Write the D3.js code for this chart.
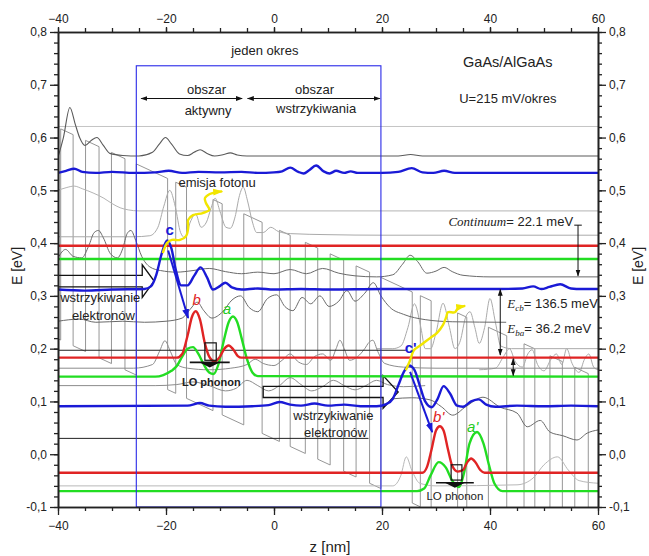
<!DOCTYPE html>
<html lang="pl">
<head>
<meta charset="utf-8">
<title>GaAs/AlGaAs</title>
<script src="https://cdn.jsdelivr.net/npm/d3@7/dist/d3.min.js"></script>
<style>
    body { margin: 0; background: #fff; }
    #chart-area { width: 649px; height: 556px; }
    svg text { font-family: "Liberation Sans", Arial, sans-serif; fill: #222; }
    .tick text { font-size: 12px; }
    .serif { font-family: "Liberation Serif", "Times New Roman", serif; font-style: italic; }
</style>
</head>
<body>
<div id="chart-area"></div>
<script>

// axis tick labels
const zTicks = [-40, -20, 0, 20, 40, 60];
const eTicks = [-0.1, 0, 0.1, 0.2, 0.3, 0.4, 0.5, 0.6, 0.7, 0.8];

// layer sequence of one period (nm), barrier first, then alternating well / barrier
const layerWidths = [5.8, 1.5, 2.0, 4.9, 1.7, 4.0, 3.4, 3.2, 2.0, 2.8, 2.3, 2.3, 2.5, 2.3, 2.5, 2.1];
const periodStarts = [-70.8, -25.5, 19.8];
const barrierTop = 0.55;      // eV, top of injection barrier at z = -25.5
const barrierHeight = 0.40;   // eV
const fieldDrop = 0.215;      // eV per period (U = 215 mV/okres)

// colored states [z nm, E eV]
const cUpper = [[-40,0.533],[-38.5,0.537],[-37,0.541],[-35.5,0.535],[-33,0.533],[-30,0.535],[-26,0.533],[-22,0.534],[-19.5,0.537],[-17,0.533],[-14,0.535],[-10,0.534],[-6,0.535],[-3,0.533],[0,0.534],[1.5,0.536],[3,0.543],[4.5,0.535],[5.5,0.532],[6.5,0.538],[7.8,0.547],[9.2,0.536],[10.3,0.532],[11.5,0.537],[13,0.533],[14.2,0.536],[15.5,0.533],[20,0.533],[23,0.535],[25.5,0.542],[27.5,0.534],[29.5,0.533],[31.5,0.537],[33.5,0.533],[40,0.533],[60,0.533]];
const bUpper = [[-40,0.395],[60,0.395]];
const aUpper = [[-40,0.37],[60,0.37]];
const cState = [[-40,0.312],[-35,0.31],[-30,0.312],[-24,0.313],[-22.8,0.318],[-21.8,0.34],[-20.8,0.38],[-19.8,0.405],[-19,0.39],[-18.2,0.35],[-17.2,0.32],[-16,0.32],[-14.8,0.338],[-13.6,0.354],[-12.4,0.335],[-11.3,0.312],[-10.1,0.318],[-9,0.325],[-7.8,0.316],[-6,0.312],[-3,0.314],[0,0.312],[5,0.313],[10,0.312],[20,0.313],[30,0.313],[40,0.313],[46,0.314],[48,0.318],[49.5,0.313],[51,0.317],[53,0.322],[55,0.314],[57,0.313],[60,0.313]];
const bState = [[-40,0.183],[-18,0.183],[-17,0.19],[-16,0.225],[-15.2,0.26],[-14.5,0.271],[-13.7,0.255],[-12.8,0.21],[-12,0.185],[-11,0.176],[-10,0.185],[-9.2,0.2],[-8.4,0.206],[-7.5,0.198],[-6.7,0.186],[-6,0.183],[60,0.183]];
const aState = [[-40,0.147],[-22,0.147],[-20.5,0.15],[-19,0.158],[-18,0.167],[-17,0.185],[-16,0.2],[-15,0.203],[-14,0.19],[-13,0.17],[-12,0.155],[-11.2,0.152],[-10.3,0.17],[-9.3,0.215],[-8.4,0.25],[-7.6,0.261],[-6.8,0.25],[-6,0.22],[-5,0.18],[-4,0.155],[-3,0.148],[60,0.147]];
const cPrime = [[-40,0.091],[-16,0.092],[-13.7,0.097],[-12,0.092],[-9,0.09],[-4,0.091],[-1,0.093],[1,0.099],[3,0.094],[5,0.092],[7.5,0.096],[10,0.092],[13,0.094],[16,0.091],[19,0.091],[20.8,0.095],[22,0.105],[23,0.13],[24,0.155],[25,0.168],[26,0.16],[27,0.13],[28,0.1],[29.2,0.089],[30.3,0.105],[31.4,0.129],[32.6,0.115],[33.9,0.092],[35,0.09],[36.5,0.1],[37.9,0.104],[39.3,0.094],[41,0.09],[45,0.092],[50,0.091],[55,0.092],[60,0.091]];
const bPrime = [[-40,-0.035],[27.5,-0.035],[28.3,-0.025],[29.2,0.01],[30,0.045],[30.7,0.053],[31.4,0.045],[32.2,0.01],[33,-0.022],[34,-0.033],[35,-0.03],[35.8,-0.015],[36.5,-0.008],[37.3,-0.015],[38.2,-0.03],[39,-0.035],[60,-0.035]];
const aPrime = [[-40,-0.07],[26.5,-0.07],[27.8,-0.065],[29,-0.04],[30.5,-0.015],[31.8,-0.025],[33,-0.05],[34.2,-0.062],[35.2,-0.035],[36.2,0.02],[37.6,0.042],[38.8,0.02],[39.8,-0.02],[40.8,-0.055],[42.3,-0.07],[60,-0.07]];

// gray states
const gray620 = [[-40,0.621],[60,0.621]];
const gray565 = [[-40,0.563],[-39,0.6],[-37.8,0.657],[-36.8,0.625],[-36,0.6],[-35,0.585],[-33.8,0.595],[-32.8,0.6],[-31.6,0.585],[-30.4,0.57],[-28,0.566],[-25,0.565],[-22.5,0.572],[-21.2,0.588],[-20.1,0.6],[-19,0.588],[-17.5,0.569],[-16,0.566],[-14.8,0.572],[-13.7,0.577],[-12.4,0.57],[-11,0.565],[-9.3,0.568],[-8.1,0.571],[-6.8,0.567],[-5,0.565],[23,0.565],[25.3,0.568],[27.5,0.565],[60,0.565]];
const gray460 = [[-40,0.5],[-38.5,0.505],[-37,0.508],[-35.5,0.503],[-33.5,0.495],[-31.5,0.485],[-30,0.475],[-28.5,0.467],[-27,0.463],[-25,0.461],[60,0.461]];
const gray414 = [[-40,0.412],[-26,0.412],[-23,0.414],[-21.5,0.43],[-20.4,0.47],[-19.3,0.5],[-18.3,0.47],[-17.3,0.42],[-16.5,0.41],[-15.5,0.44],[-14.5,0.455],[-13.5,0.43],[-12.5,0.44],[-11.7,0.465],[-10.9,0.485],[-10,0.46],[-8.9,0.43],[-8.1,0.428],[-7.2,0.45],[-6.4,0.49],[-5.7,0.506],[-4.9,0.48],[-4,0.44],[-3.2,0.42],[-2,0.42],[-0.6,0.43],[0.8,0.422],[3,0.418],[10,0.416],[20,0.415],[60,0.415]];
const gray336 = [[-40,0.372],[-38.6,0.388],[-37.2,0.375],[-35.6,0.372],[-34.3,0.395],[-33.3,0.42],[-32.5,0.424],[-31.6,0.41],[-30.3,0.38],[-29,0.372],[-28,0.39],[-27.2,0.418],[-26.5,0.424],[-25.6,0.405],[-24.5,0.375],[-23,0.355],[-21,0.348],[-18,0.345],[-15,0.348],[-12,0.352],[-9,0.346],[-6,0.342],[-3,0.345],[0,0.342],[3,0.35],[6,0.342],[9,0.352],[12,0.343],[15,0.338],[19,0.336],[22,0.34],[23.8,0.36],[25.2,0.377],[26.6,0.365],[28.3,0.343],[30,0.347],[31.5,0.354],[33,0.346],[35,0.339],[40,0.336],[60,0.336]];
const gray250 = [[-40,0.252],[-36,0.256],[-33,0.25],[-28,0.252],[-24,0.25],[-20,0.252],[-17,0.258],[-15.5,0.275],[-14.2,0.288],[-13,0.272],[-11.5,0.258],[-9.5,0.27],[-7.8,0.292],[-6.2,0.3],[-4.6,0.278],[-3,0.27],[-1.2,0.295],[0.5,0.302],[2,0.28],[3.5,0.272],[5.2,0.297],[6.8,0.285],[8.5,0.3],[10.2,0.28],[12,0.29],[13.5,0.31],[15,0.29],[16.8,0.305],[18.4,0.325],[19.8,0.3],[21.5,0.278],[24,0.265],[28,0.255],[33,0.251],[43,0.25]];
const black197 = [[-40,0.197],[24.5,0.197]];
const grayActive = [[19,0.2],[22,0.2],[23.5,0.205],[24.8,0.24],[26,0.285],[27.2,0.24],[28,0.2],[29,0.2],[30,0.23],[31.3,0.286],[32.5,0.24],[33.5,0.2],[34.5,0.215],[35.5,0.26],[36.3,0.27],[37.2,0.24],[38,0.21],[39,0.24],[40,0.295],[41,0.25],[42,0.205],[44,0.2],[60,0.2]];
const gray163 = [[-40,0.163],[-26,0.163],[-22.5,0.17],[-21.2,0.195],[-20.2,0.215],[-19.2,0.195],[-18,0.17],[-16,0.163],[-12,0.16],[-8,0.163],[-5,0.17],[-3.5,0.18],[-2,0.172],[0,0.168],[1.5,0.178],[3,0.19],[4.5,0.175],[6,0.17],[7.5,0.185],[9,0.19],[10.5,0.178],[11.5,0.2],[12.2,0.216],[13,0.2],[14,0.178],[15.5,0.185],[16.8,0.2],[17.6,0.212],[18.3,0.216],[19.2,0.195],[20.5,0.172],[24,0.165],[30,0.163],[60,0.163]];
const gray128 = [[-40,0.13],[-22,0.13],[-18,0.132],[-15,0.137],[-12,0.13],[-9,0.12],[-7,0.125],[-5,0.14],[-3,0.13],[-1,0.12],[1,0.13],[3,0.145],[5,0.132],[7,0.12],[9,0.128],[11,0.14],[13,0.13],[15,0.122],[17,0.13],[19,0.14],[21,0.132],[24,0.128],[28,0.13]];
const black030 = [[-40,0.03],[17.5,0.03]];
const grayRight = [[22,0.105],[25.5,0.107],[28.9,0.103],[31,0.09],[33.1,0.074],[35.5,0.09],[38.7,0.108],[41.9,0.089],[45,0.078],[46.9,0.052],[49.3,0.064],[51.1,0.042],[53.5,0.035],[56.1,0.027],[58,0.04],[60,0.046]];
const grayRightMid = [[38,0.16],[41,0.163],[42.5,0.185],[43.6,0.2],[44.7,0.175],[46,0.165],[47,0.19],[47.8,0.198],[48.8,0.17],[50,0.158],[51.3,0.18],[52.3,0.19],[53.3,0.17],[54.2,0.2],[55.2,0.172],[56.5,0.155],[57.5,0.18],[58.3,0.19],[59.2,0.165],[60,0.16]];
const grayLow = [[-40,-0.06],[22,-0.06],[23.5,-0.04],[24.5,-0.005],[25.5,-0.03],[27,-0.055],[30,-0.06],[45,-0.058],[48,-0.045],[50,-0.02],[52.5,-0.005],[54.5,-0.03],[56.5,-0.05],[60,-0.055]];

// photon emission paths
const photonA = [[-20.6,0.381],[-19.8,0.4],[-18.9,0.406],[-17.4,0.406],[-16.3,0.413],[-15.9,0.428],[-15.9,0.444],[-15.0,0.453],[-13.2,0.457],[-12.0,0.463],[-12.6,0.476],[-12.8,0.485],[-11.9,0.493],[-10.4,0.497],[-9.6,0.498]];
const photonB = [[24.4,0.159],[25.2,0.178],[25.9,0.197],[27.2,0.207],[28.9,0.22],[30.2,0.23],[31.3,0.245],[31.9,0.26],[32.2,0.269],[33.5,0.269],[34.1,0.277],[35.4,0.281]];


class BandVis {

    constructor(parentElement) {
        this.parentElement = parentElement;
        this.initVis();
    }

    initVis() {
        let vis = this;

        vis.width = 649;
        vis.height = 556;
        vis.margin = {top: 32, right: 51, bottom: 49, left: 58};

        vis.svg = d3.select("#" + vis.parentElement).append("svg")
            .attr("width", vis.width)
            .attr("height", vis.height);

        vis.x = d3.scaleLinear().domain([-40, 60]).range([vis.margin.left, vis.width - vis.margin.right]);
        vis.y = d3.scaleLinear().domain([-0.1, 0.8]).range([vis.height - vis.margin.bottom, vis.margin.top]);

        // comma decimals like the original
        vis.fmt = d3.formatLocale({decimal: ",", thousands: ".", grouping: [3], currency: ["", ""], minus: "-"}).format(".1f");

        let defs = vis.svg.append("defs");
        defs.append("clipPath").attr("id", "plot-clip")
            .append("rect")
            .attr("x", vis.x(-40)).attr("y", vis.y(0.8))
            .attr("width", vis.x(60) - vis.x(-40))
            .attr("height", vis.y(-0.1) - vis.y(0.8));

        // arrow heads
        [["ah-black", "#111", 7], ["ah-blue", "#1a1ad6", 10], ["ah-yellow", "#f2e600", 10]].forEach(m => {
            defs.append("marker")
                .attr("id", m[0])
                .attr("viewBox", "0 0 10 10")
                .attr("refX", 9).attr("refY", 5)
                .attr("markerUnits", "userSpaceOnUse")
                .attr("markerWidth", m[2]).attr("markerHeight", m[2])
                .attr("orient", "auto-start-reverse")
                .append("path")
                .attr("d", "M0,1.5L10,5L0,8.5Z")
                .attr("fill", m[1]);
        });

        vis.plot = vis.svg.append("g").attr("clip-path", "url(#plot-clip)");

        vis.line = d3.line()
            .x(d => vis.x(d[0]))
            .y(d => vis.y(d[1]))
            .curve(d3.curveMonotoneX);

        vis.wrangleData();
    }

    wrangleData() {
        let vis = this;

        // conduction band edge, tilted by the applied field
        let periodLength = d3.sum(layerWidths);
        vis.bandEdge = [];
        periodStarts.forEach(start => {
            let z = start;
            layerWidths.forEach((w, i) => {
                let offset = i % 2 === 0 ? 0 : barrierHeight;
                let level = zz => barrierTop - fieldDrop * (zz - periodStarts[1]) / periodLength - offset;
                vis.bandEdge.push([z, level(z)], [z + w, level(z + w)]);
                z += w;
            });
        });

        vis.grayStates = [
            {data: gray620, color: "#c4c4c4", w: 1},
            {data: gray460, color: "#b4b4b4", w: 1},
            {data: gray414, color: "#aaaaaa", w: 1},
            {data: grayActive, color: "#aaaaaa", w: 1},
            {data: grayRightMid, color: "#aaaaaa", w: 1},
            {data: grayLow, color: "#b8b8b8", w: 1},
            {data: gray163, color: "#8c8c8c", w: 1},
            {data: gray128, color: "#8c8c8c", w: 1},
            {data: gray565, color: "#5a5a5a", w: 1.1},
            {data: gray336, color: "#6a6a6a", w: 1},
            {data: gray250, color: "#6a6a6a", w: 1},
            {data: grayRight, color: "#6a6a6a", w: 1},
            {data: black197, color: "#222", w: 1},
            {data: black030, color: "#222", w: 1}
        ];

        vis.colorStates = [
            {data: cUpper, color: "#1a1ad6"},
            {data: bUpper, color: "#e02424"},
            {data: aUpper, color: "#22dd22"},
            {data: aState, color: "#22dd22"},
            {data: bState, color: "#e02424"},
            {data: cState, color: "#1a1ad6"},
            {data: aPrime, color: "#22dd22"},
            {data: bPrime, color: "#e02424"},
            {data: cPrime, color: "#1a1ad6"}
        ];

        vis.updateVis();
    }

    updateVis() {
        let vis = this;
        let x = vis.x, y = vis.y;

        // band profile
        vis.plot.append("path")
            .attr("d", d3.line().x(d => x(d[0])).y(d => y(d[1]))(vis.bandEdge))
            .attr("fill", "none")
            .attr("stroke", "#8a8a8a")
            .attr("stroke-width", 0.9);

        // gray wavefunctions
        vis.plot.selectAll(".gray-state")
            .data(vis.grayStates)
            .enter().append("path")
            .attr("class", "gray-state")
            .attr("d", d => vis.line(d.data))
            .attr("fill", "none")
            .attr("stroke", d => d.color)
            .attr("stroke-width", d => d.w);

        // one period box
        vis.svg.append("rect")
            .attr("x", x(-25.5)).attr("y", y(0.736))
            .attr("width", x(19.8) - x(-25.5))
            .attr("height", y(-0.1) - y(0.736))
            .attr("fill", "none")
            .attr("stroke", "#2a2ae8")
            .attr("stroke-width", 1.1);

        // injection arrows (hollow)
        let hollowArrow = (z0, z1, zTip, eMid, body, head) => [
            [x(z0), y(eMid + body)], [x(z1), y(eMid + body)], [x(z1), y(eMid + head)],
            [x(zTip), y(eMid)], [x(z1), y(eMid - head)], [x(z1), y(eMid - body)], [x(z0), y(eMid - body)]
        ];
        [hollowArrow(-40, -24.4, -22.2, 0.328, 0.011, 0.031), hollowArrow(-2.0, 20.2, 23.0, 0.118, 0.0105, 0.031)]
            .forEach(pts => {
                vis.plot.append("polygon")
                    .attr("points", pts.map(p => p.join(",")).join(" "))
                    .attr("fill", "none")
                    .attr("stroke", "#111")
                    .attr("stroke-width", 1.3);
            });

        // colored states
        vis.plot.selectAll(".color-state")
            .data(vis.colorStates)
            .enter().append("path")
            .attr("class", "color-state")
            .attr("d", d => vis.line(d.data))
            .attr("fill", "none")
            .attr("stroke", d => d.color)
            .attr("stroke-width", 2.4);

        // photons
        [photonA, photonB].forEach(p => {
            vis.svg.append("path")
                .attr("d", d3.line().x(d => x(d[0])).y(d => y(d[1])).curve(d3.curveCatmullRom)(p))
                .attr("fill", "none")
                .attr("stroke", "#f2e600")
                .attr("stroke-width", 2.4)
                .attr("marker-end", "url(#ah-yellow)");
        });

        // transitions c -> b
        [[[-19.6, 0.386], [-15.9, 0.258]], [[25.2, 0.156], [29.3, 0.042]]].forEach(s => {
            vis.svg.append("line")
                .attr("x1", x(s[0][0])).attr("y1", y(s[0][1]))
                .attr("x2", x(s[1][0])).attr("y2", y(s[1][1]))
                .attr("stroke", "#1a1ad6")
                .attr("stroke-width", 2)
                .attr("marker-end", "url(#ah-blue)");
        });

        // LO phonon symbols
        [[-12.8, -10.7, 0.211, 0.178, -15.6, -8.2, 0.174], [32.8, 34.8, -0.02, -0.049, 30.0, 37.0, -0.054]].forEach(p => {
            let g = vis.svg.append("g");
            g.append("rect")
                .attr("x", x(p[0])).attr("y", y(p[2]))
                .attr("width", x(p[1]) - x(p[0])).attr("height", y(p[3]) - y(p[2]))
                .attr("fill", "none").attr("stroke", "#111").attr("stroke-width", 1.2);
            g.append("line")
                .attr("x1", x(p[4])).attr("x2", x(p[5]))
                .attr("y1", y(p[6])).attr("y2", y(p[6]))
                .attr("stroke", "#111").attr("stroke-width", 1.6);
            let mid = (x(p[4]) + x(p[5])) / 2;
            g.append("path")
                .attr("d", `M${mid - 10},${y(p[6])}L${mid + 10},${y(p[6])}L${mid},${y(p[6]) + 5}Z`)
                .attr("fill", "#111");
        });

        // region arrows
        [[-24.6, -5.9], [-4.9, 19.6]].forEach(a => {
            vis.svg.append("line")
                .attr("x1", x(a[0])).attr("x2", x(a[1]))
                .attr("y1", y(0.674)).attr("y2", y(0.674))
                .attr("stroke", "#111").attr("stroke-width", 1)
                .attr("marker-start", "url(#ah-black)")
                .attr("marker-end", "url(#ah-black)");
        });

        // energy arrows on the right
        let vArrow = (z, e0, e1, both) => {
            let l = vis.svg.append("line")
                .attr("x1", x(z)).attr("x2", x(z))
                .attr("y1", y(e0)).attr("y2", y(e1))
                .attr("stroke", "#111").attr("stroke-width", 1)
                .attr("marker-end", "url(#ah-black)");
            if (both) l.attr("marker-start", "url(#ah-black)");
        };
        vArrow(56.3, 0.434, 0.338, false);
        vArrow(41.9, 0.312, 0.188, true);
        vArrow(44.3, 0.181, 0.149, true);
        vis.svg.append("line")
            .attr("x1", x(55.6)).attr("x2", x(57))
            .attr("y1", y(0.434)).attr("y2", y(0.434))
            .attr("stroke", "#111");

        vis.drawText();
        vis.drawAxes();
    }

    drawText() {
        let vis = this;
        let x = vis.x, y = vis.y;

        let txt = (s, zx, ey, size, anchor) => vis.svg.append("text")
            .attr("x", x(zx)).attr("y", y(ey))
            .attr("font-size", size)
            .attr("text-anchor", anchor || "middle")
            .text(s);

        txt("jeden okres", -1.7, 0.757, 13);
        txt("obszar", -12.5, 0.682, 13);
        txt("aktywny", -12.2, 0.643, 13);
        txt("obszar", 7.5, 0.682, 13);
        txt("wstrzykiwania", 7.8, 0.647, 13);
        txt("GaAs/AlGaAs", 43.3, 0.733, 14.5);
        txt("U=215 mV/okres", 43.3, 0.665, 13);
        txt("emisja fotonu", -17.7, 0.506, 13, "start");
        txt("wstrzykiwanie", -39.6, 0.288, 13, "start");
        txt("elektronów", -37.4, 0.254, 13, "start");
        txt("wstrzykiwanie", 11, 0.065, 13);
        txt("elektronów", 11.4, 0.033, 13);
        txt("LO phonon", -11.6, 0.129, 11).attr("font-weight", "bold");
        txt("LO phonon", 33.5, -0.087, 11.5);

        // level labels
        let lbl = (s, zx, ey, color, style) => txt(s, zx, ey, 15)
            .style("fill", color)
            .attr("font-weight", style === "bold" ? "bold" : null)
            .attr("font-style", style === "italic" ? "italic" : null);
        lbl("c", -19.3, 0.415, "#1a1ad6", "bold");
        lbl("b", -14.3, 0.283, "#e02424", "italic");
        lbl("a", -8.7, 0.265, "#22cc22", "italic");
        lbl("c'", 25.3, 0.192, "#1a1ad6", "bold");
        lbl("b'", 30.5, 0.061, "#e02424", "italic");
        lbl("a'", 36.8, 0.042, "#22cc22", "italic");

        // annotations with italic serif symbols
        let cont = vis.svg.append("text").attr("x", x(32.3)).attr("y", y(0.432)).attr("font-size", 13);
        cont.append("tspan").attr("class", "serif").text("Continuum");
        cont.append("tspan").text("= 22.1 meV");

        [["cb", "= 136.5 meV", 0.278], ["ba", "= 36.2 meV", 0.23]].forEach(a => {
            let t = vis.svg.append("text").attr("x", x(43.2)).attr("y", y(a[2])).attr("font-size", 13);
            t.append("tspan").attr("class", "serif").text("E");
            t.append("tspan").attr("class", "serif").attr("font-size", 9).attr("dy", 3).text(a[0]);
            t.append("tspan").attr("dy", -3).text(a[1]);
        });
    }

    drawAxes() {
        let vis = this;
        let x = vis.x, y = vis.y;
        let bottom = vis.height - vis.margin.bottom;
        let right = vis.width - vis.margin.right;

        let zMinor = d3.range(-40, 61, 5);
        let eMinor = d3.range(-0.1, 0.8001, 0.02);

        let style = g => {
            g.select(".domain").attr("stroke", "#222").attr("stroke-width", 1.6);
            g.selectAll(".tick line").attr("stroke", "#222").attr("stroke-width", 1.3);
        };

        // minor ticks
        vis.svg.append("g").attr("transform", `translate(0,${bottom})`)
            .call(d3.axisBottom(x).tickValues(zMinor).tickSize(4).tickSizeOuter(0).tickFormat("")).call(style);
        vis.svg.append("g").attr("transform", `translate(0,${vis.margin.top})`)
            .call(d3.axisTop(x).tickValues(zMinor).tickSize(4).tickSizeOuter(0).tickFormat("")).call(style);
        vis.svg.append("g").attr("transform", `translate(${vis.margin.left},0)`)
            .call(d3.axisLeft(y).tickValues(eMinor).tickSize(4).tickSizeOuter(0).tickFormat("")).call(style);
        vis.svg.append("g").attr("transform", `translate(${right},0)`)
            .call(d3.axisRight(y).tickValues(eMinor).tickSize(4).tickSizeOuter(0).tickFormat("")).call(style);

        // major ticks with labels
        vis.svg.append("g").attr("transform", `translate(0,${bottom})`)
            .call(d3.axisBottom(x).tickValues(zTicks).tickSize(8).tickSizeOuter(0).tickPadding(6)).call(style);
        vis.svg.append("g").attr("transform", `translate(0,${vis.margin.top})`)
            .call(d3.axisTop(x).tickValues(zTicks).tickSize(5).tickSizeOuter(0).tickPadding(4)).call(style);
        vis.svg.append("g").attr("transform", `translate(${vis.margin.left},0)`)
            .call(d3.axisLeft(y).tickValues(eTicks).tickSize(8).tickSizeOuter(0).tickPadding(3).tickFormat(vis.fmt)).call(style);
        vis.svg.append("g").attr("transform", `translate(${right},0)`)
            .call(d3.axisRight(y).tickValues(eTicks).tickSize(8).tickSizeOuter(0).tickPadding(3).tickFormat(vis.fmt)).call(style);

        vis.svg.selectAll(".tick text").attr("font-size", 12).attr("fill", "#222").attr("font-family", null);

        // axis titles
        vis.svg.append("text")
            .attr("x", 330).attr("y", 552)
            .attr("text-anchor", "middle").attr("font-size", 15)
            .text("z [nm]");
        [22, 643].forEach(px => {
            vis.svg.append("text")
                .attr("transform", `translate(${px},266) rotate(-90)`)
                .attr("text-anchor", "middle").attr("font-size", 14)
                .text("E [eV]");
        });
    }
}

new BandVis("chart-area");

</script>
</body>
</html>
